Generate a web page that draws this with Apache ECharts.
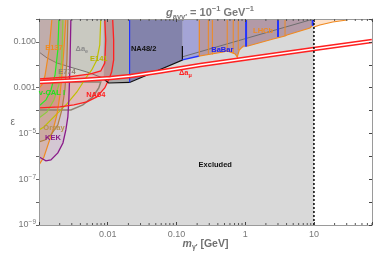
<!DOCTYPE html>
<html><head><meta charset="utf-8">
<script src="https://cdn.jsdelivr.net/npm/echarts@6/dist/echarts.min.js"></script>
<style>html,body{margin:0;padding:0;background:#fff}#c{width:374px;height:253px}</style>
</head><body><div id="c"></div>
<script>
// ---------- tick labels ----------
const xTickVals = [0.01, 0.1, 1, 10];
const xTickText = ['0.01', '0.10', '1', '10'];
const yTickVals = [1e-1, 1e-3, 1e-5, 1e-7, 1e-9];
const yTickText = ['0.100', '0.001', '10{s|−5}', '10{s|−7}', '10{s|−9}'];
const xMinorVals = [0.002,0.003,0.004,0.005,0.006,0.007,0.008,0.009,
  0.02,0.03,0.04,0.05,0.06,0.07,0.08,0.09,
  0.2,0.3,0.4,0.5,0.6,0.7,0.8,0.9,
  2,3,4,5,6,7,8,9,20,30,40,50,60,70];

// ---------- regions / curves  [mass GeV, epsilon] ----------
const excluded = [[0.001,1e-9],[10,1e-9],[10,1],[0.001,1]];
const daeLine = [[0.001,0.0362],[0.00131,0.0198],[0.00182,0.012],[0.00281,0.00802],[0.00496,0.00485],[0.00935,0.0024],[8.75,0.904],[9.5,1]];
const daeCorner = [[0.001,1]];
const grayBlock = [[0.00875,1],[0.00875,0.0024],[0.0103,0.0016],[0.0208,0.00169],[0.0208,1]];
const na48Region = [[0.0208,1],[0.0208,0.00169],[0.122,0.0162],[0.122,1]];
const na48Edge = [[0.00875,0.0024],[0.0103,0.0016],[0.0208,0.00169],[0.122,0.0162],[0.122,0.0662]];
const na48Blue = [[0.0208,1],[0.0208,0.00169]];
const babarRegion = [[0.122,1],[0.122,0.0162],[0.215,0.0242],[1.0,0.0599],[9.68,0.74],[9.68,1]];
const babarEdge = [[0.122,0.0162],[0.215,0.0242]];
const babarGaps = [[[1.03,1],[1.03,0.062]],[[3.0,1],[3.0,0.164]],[[9.6,1],[9.6,0.5]]];
const lhcbEdge = [[0.215,1],[0.215,0.0242],[0.48,0.0362],[0.548,0.0401],[0.716,0.0296],[0.766,0.0219],[0.819,0.0443],[0.936,0.0662],[1.10,0.0662],[2.55,0.134],[3.80,0.181],[4.06,0.2],[8.75,0.405],[9.68,0.547],[9.68,1]];
const lhcbSpikes = [[[0.291,1],[0.291,0.0268]],[[0.333,1],[0.333,0.028]],[[0.548,1],[0.548,0.0401]],[[0.67,1],[0.67,0.0327]],[[0.792,1],[0.792,0.0443]],[[3.8,1],[3.8,0.181]]];
const highEdge = [[10,0.448],[12.2,0.547],[18.8,0.74],[30.1,0.904],[33.2,1]];
const highCorner = [[10,1]];

const e137Right = [[0.00246,1],[0.0023,0.0443],[0.00215,0.00324],[0.00202,4.8e-4],[0.00182,6.4e-5],[0.0016,1.42e-5],[0.00135,3.15e-6],[0.00118,9.4e-7],[0.001,4.2e-7]];
const e137Left = [[0.00154,1],[0.0014,0.0443],[0.00122,3.24e-3],[0.0011,1.31e-3],[0.001,9.7e-4]];
const orsayCurve = [[0.00263,1],[0.00255,0.0162],[0.00238,7.9e-4],[0.00215,1.06e-4],[0.00188,2.35e-5],[0.00149,8.6e-6],[0.00122,5.2e-6],[0.001,4.26e-6]];
const kekCurve = [[0.00291,1],[0.00281,0.00593],[0.00272,2.9e-4],[0.00263,5.26e-5],[0.00246,1.42e-5],[0.00223,3.85e-6],[0.00188,1.41e-6],[0.00149,7.0e-7],[0.00126,6.3e-7],[0.00107,8.5e-7],[0.001,9.4e-7]];
const na64Outer = [[0.0118,1],[0.0122,0.121],[0.0122,0.0162],[0.0114,0.00485],[0.0103,0.00217],[0.00905,0.00097],[0.00694,3.93e-4],[0.00496,2.38e-4],[0.00322,1.76e-4],[0.00202,1.44e-4],[0.001,1.3e-4]];
const na64Inner = [[0.001,0.0024],[0.00263,0.00293],[0.00567,0.00397],[0.00792,0.00536],[0.00905,0.012],[0.00935,0.121],[0.00905,1]];
const vcalA = [[0.00195,1],[0.00188,0.0443],[0.00171,3.59e-3],[0.00149,7.9e-4],[0.00126,2.9e-4],[0.001,1.59e-4]];
const vcalB = [[0.00223,1],[0.00215,0.0162],[0.00195,1.31e-3],[0.00165,2.9e-4],[0.00131,8.7e-5],[0.001,4.75e-5]];
const e141Curve = [[0.00792,1],[0.00766,0.0733],[0.00694,0.0162],[0.00586,0.00593],[0.0048,0.00265],[0.00356,6.5e-4],[0.00255,1.94e-4],[0.00195,8.7e-5],[0.00149,3.9e-5],[0.00118,1.92e-5],[0.001,1.42e-5]];
const e774Curve = [[0.001,1.77e-3],[0.00792,1.77e-3],[0.00741,9.7e-4],[0.00606,3.93e-4],[0.00435,1.76e-4],[0.00291,1.06e-4],[0.001,1.06e-4]];
const amuBand = [[0.001,1.77e-3],[0.00406,2.17e-3],[0.011,2.65e-3],[0.0216,3.24e-3],[0.0586,5.1e-3],[0.223,9.8e-3],[1.18,0.0198],[10,0.049],[70,0.109]];
const dashedLine = [[10,1e-9],[10,1]];

// ---------- text labels ----------
const labelPos = [[0.00165,0.0542],[0.0042,0.049],[0.00741,0.0179],[0.00255,0.00485],[0.00154,5.9e-4],[0.0067,4.8e-4],[0.00165,1.74e-5],[0.0016,6.4e-6],[0.0333,0.049],[0.465,0.0443],[0.135,0.00439],[1.82,0.299],[0.367,4.2e-7]];
const labelText = ['E137','Δa{s|e}','E141','E774','v-CAL I','NA64','Orsay','KEK','NA48/2','BaBar','Δa{s|μ}','LHCb','Excluded'];
const labelColor = ['#f08a20','#8a8a8a','#b5b500','#8f8070','#22dd22','#ff2020','#b8904a','#8a1a8a','#111111','#2222ee','#ff2020','#f08a20','#111111'];

const FONT = 'Liberation Sans';

function area(pts, fill, z) {
  return {type:'custom', coordinateSystem:'cartesian2d', clip:true, silent:true, z:z, data:[pts[0]],
    renderItem:(p, api) => ({type:'polygon', shape:{points: pts.map(q => api.coord(q))}, style:{fill:fill}})};
}
function path(pts, stroke, width, z, dash) {
  return {type:'custom', coordinateSystem:'cartesian2d', clip:true, silent:true, z:z, data:[pts[0]],
    renderItem:(p, api) => ({type:'polyline', shape:{points: pts.map(q => api.coord(q))},
      style:{fill:null, stroke:stroke, lineWidth:width, lineDash: dash || null}})};
}

const series = [];
series.push(area(excluded, '#d9d9d9', 1));
series.push(area(daeLine.concat(daeCorner), 'rgba(0,0,0,0.07)', 2));
series.push(area(babarRegion, '#a4a4d6', 3));
series.push(area(lhcbEdge, '#b39aa7', 4));
series.push(area(highCorner.concat(highEdge), '#fde2cb', 4));
series.push(path(daeLine, '#6e6e6e', 1, 4.5));
series.push(area(grayBlock, '#a9a9a9', 5));
series.push(area(na48Region, '#8383ab', 5));
// beam dump fills
series.push(area(e141Curve.concat([[0.001,1]]), 'rgba(200,200,0,0.04)', 6));
series.push(area(e137Right.concat(e137Left.slice().reverse()), 'rgba(220,140,60,0.25)', 6));
series.push(area(orsayCurve.concat([[0.001,1]]), 'rgba(160,120,70,0.18)', 6));
series.push(area(kekCurve.concat([[0.001,1]]), 'rgba(190,100,180,0.15)', 6));
series.push(area(vcalB.concat(vcalA.slice().reverse()), 'rgba(0,200,0,0.07)', 6));
series.push(area(na64Outer.concat(na64Inner), 'rgba(255,70,70,0.2)', 6));
// outlines
series.push(path(e774Curve, '#8f8070', 1.5, 7));
series.push(path(e141Curve, '#c0c000', 1.2, 7));
series.push(path(e137Right, '#f08a20', 1.2, 7));
series.push(path(e137Left, '#f08a20', 1.2, 7));
series.push(path(orsayCurve, '#b08040', 1.2, 7));
series.push(path(vcalA, '#22ee22', 1.2, 7));
series.push(path(vcalB, '#8ccc3c', 1.2, 7));
series.push(path(kekCurve, '#8a1a8a', 1.3, 7));
series.push(path(na64Outer, '#ff2020', 1.3, 7));
series.push(path(na64Inner, '#ff2020', 1.3, 7));
series.push(path(na48Edge, '#111111', 1.2, 7));
series.push(path(na48Blue, '#2233ff', 1.2, 7));
series.push(path(babarEdge, '#2233ff', 1.3, 7));
series.push(path(lhcbEdge, '#f08a20', 1.2, 7));
lhcbSpikes.forEach(s => series.push(path(s, '#f08a20', 1, 7)));
babarGaps.forEach(s => series.push(path(s, '#2233ff', 2, 7)));
series.push(path(highEdge, '#f08a20', 1.2, 7));
// g-2 muon band
series.push(path(amuBand, '#ff2020', 4.6, 8));
series.push(path(amuBand, '#ffffff', 1.4, 8.1));
series.push(path(dashedLine, '#111111', 1.6, 9, [2, 2]));
// minor ticks on x (bottom and top)
series.push({type:'custom', coordinateSystem:'cartesian2d', clip:false, silent:true, z:20,
  data: xMinorVals.map(v => [v, 1e-9]),
  renderItem:(params, api) => {
    const c = api.coord([api.value(0), 1e-9]);
    const r = params.coordSys;
    return {type:'group', children:[
      {type:'line', shape:{x1:c[0], y1:r.y + r.height, x2:c[0], y2:r.y + r.height - 2}, style:{stroke:'#555', lineWidth:1}},
      {type:'line', shape:{x1:c[0], y1:r.y, x2:c[0], y2:r.y + 2}, style:{stroke:'#555', lineWidth:1}}
    ]};
  }});
// labels
series.push({type:'custom', coordinateSystem:'cartesian2d', clip:false, silent:true, z:30,
  data: labelPos,
  renderItem:(params, api) => {
    const i = params.dataIndex;
    const c = api.coord([api.value(0), api.value(1)]);
    return {type:'text', x:c[0], y:c[1], style:{
      text: labelText[i], fill: labelColor[i], fontSize: 7.5, fontWeight:'bold', fontFamily: FONT,
      align:'center', verticalAlign:'middle',
      rich:{s:{fontSize:5.5, fontWeight:'bold', fill: labelColor[i], verticalAlign:'bottom', lineHeight:11}}
    }};
  }});

function xFmt(v) {
  const i = xTickVals.findIndex(t => Math.abs(Math.log10(v) - Math.log10(t)) < 1e-6);
  return i >= 0 ? xTickText[i] : '';
}
function yFmt(v) {
  const i = yTickVals.findIndex(t => Math.abs(Math.log10(v) - Math.log10(t)) < 1e-6);
  return i >= 0 ? yTickText[i] : '';
}
const axisLineStyle = {lineStyle:{color:'#9a9a9a', width:1}};

const option = {
  animation:false,
  backgroundColor:'#ffffff',
  textStyle:{fontFamily:FONT},
  title:{
    text:'{i|g}{sub|aγγ′} = 10{sup|−1} GeV{sup|−1}',
    left:205, top:0, textAlign:'center',
    textStyle:{fontSize:11, fontWeight:'bold', color:'#7a7a7a', fontFamily:FONT, lineHeight:16,
      rich:{
        i:{fontSize:11, fontWeight:'bold', fontStyle:'italic', color:'#7a7a7a', lineHeight:16},
        sub:{fontSize:7.5, fontWeight:'bold', color:'#7a7a7a', verticalAlign:'bottom', lineHeight:16},
        sup:{fontSize:7.5, fontWeight:'bold', color:'#7a7a7a', verticalAlign:'top', lineHeight:16}
      }}
  },
  grid:{left:39, right:2, top:19, bottom:28, containLabel:false, outerBoundsMode:'none'},
  xAxis:[
    {type:'log', logBase:10, min:0.001, max:70, splitNumber:5, position:'bottom', z:10,
     axisLine:axisLineStyle, axisTick:{inside:true, length:3, lineStyle:{color:'#444'}},
     axisLabel:{formatter:xFmt, color:'#777', fontSize:9, margin:5, fontFamily:FONT},
     splitLine:{show:false},
     name:'{i|m}{sub|γ′} [GeV]', nameLocation:'middle', nameGap:12, nameMoveOverlap:false,
     nameTextStyle:{fontSize:10.5, fontWeight:'bold', color:'#707070', fontFamily:FONT, lineHeight:14,
       rich:{i:{fontSize:10.5, fontWeight:'bold', fontStyle:'italic', color:'#707070', lineHeight:14},
             sub:{fontSize:7, fontWeight:'bold', color:'#707070', verticalAlign:'bottom', lineHeight:14}}}},
    {type:'log', logBase:10, min:0.001, max:70, splitNumber:5, position:'top', z:10,
     axisLine:axisLineStyle, axisTick:{inside:true, length:3, lineStyle:{color:'#444'}},
     axisLabel:{show:false}, splitLine:{show:false}}
  ],
  yAxis:[
    {type:'log', logBase:10, min:1e-9, max:1, splitNumber:10, position:'left', z:10,
     axisLine:axisLineStyle, axisTick:{inside:false, length:3, lineStyle:{color:'#666'}},
     axisLabel:{formatter:yFmt, color:'#777', fontSize:9, margin:3, fontFamily:FONT,
       rich:{s:{fontSize:6.5, color:'#777', verticalAlign:'top', lineHeight:12}}},
     splitLine:{show:false},
     name:'ε', nameLocation:'middle', nameGap:24, nameRotate:0, nameMoveOverlap:false,
     nameTextStyle:{fontSize:10, color:'#707070', fontFamily:FONT}},
    {type:'log', logBase:10, min:1e-9, max:1, splitNumber:10, position:'right', z:10,
     axisLine:axisLineStyle, axisTick:{inside:true, length:3, lineStyle:{color:'#444'}},
     axisLabel:{show:false}, splitLine:{show:false}}
  ],
  series: series
};
const chart = echarts.init(document.getElementById('c'), null, {renderer:'canvas'});
chart.setOption(option);
</script></body></html>
